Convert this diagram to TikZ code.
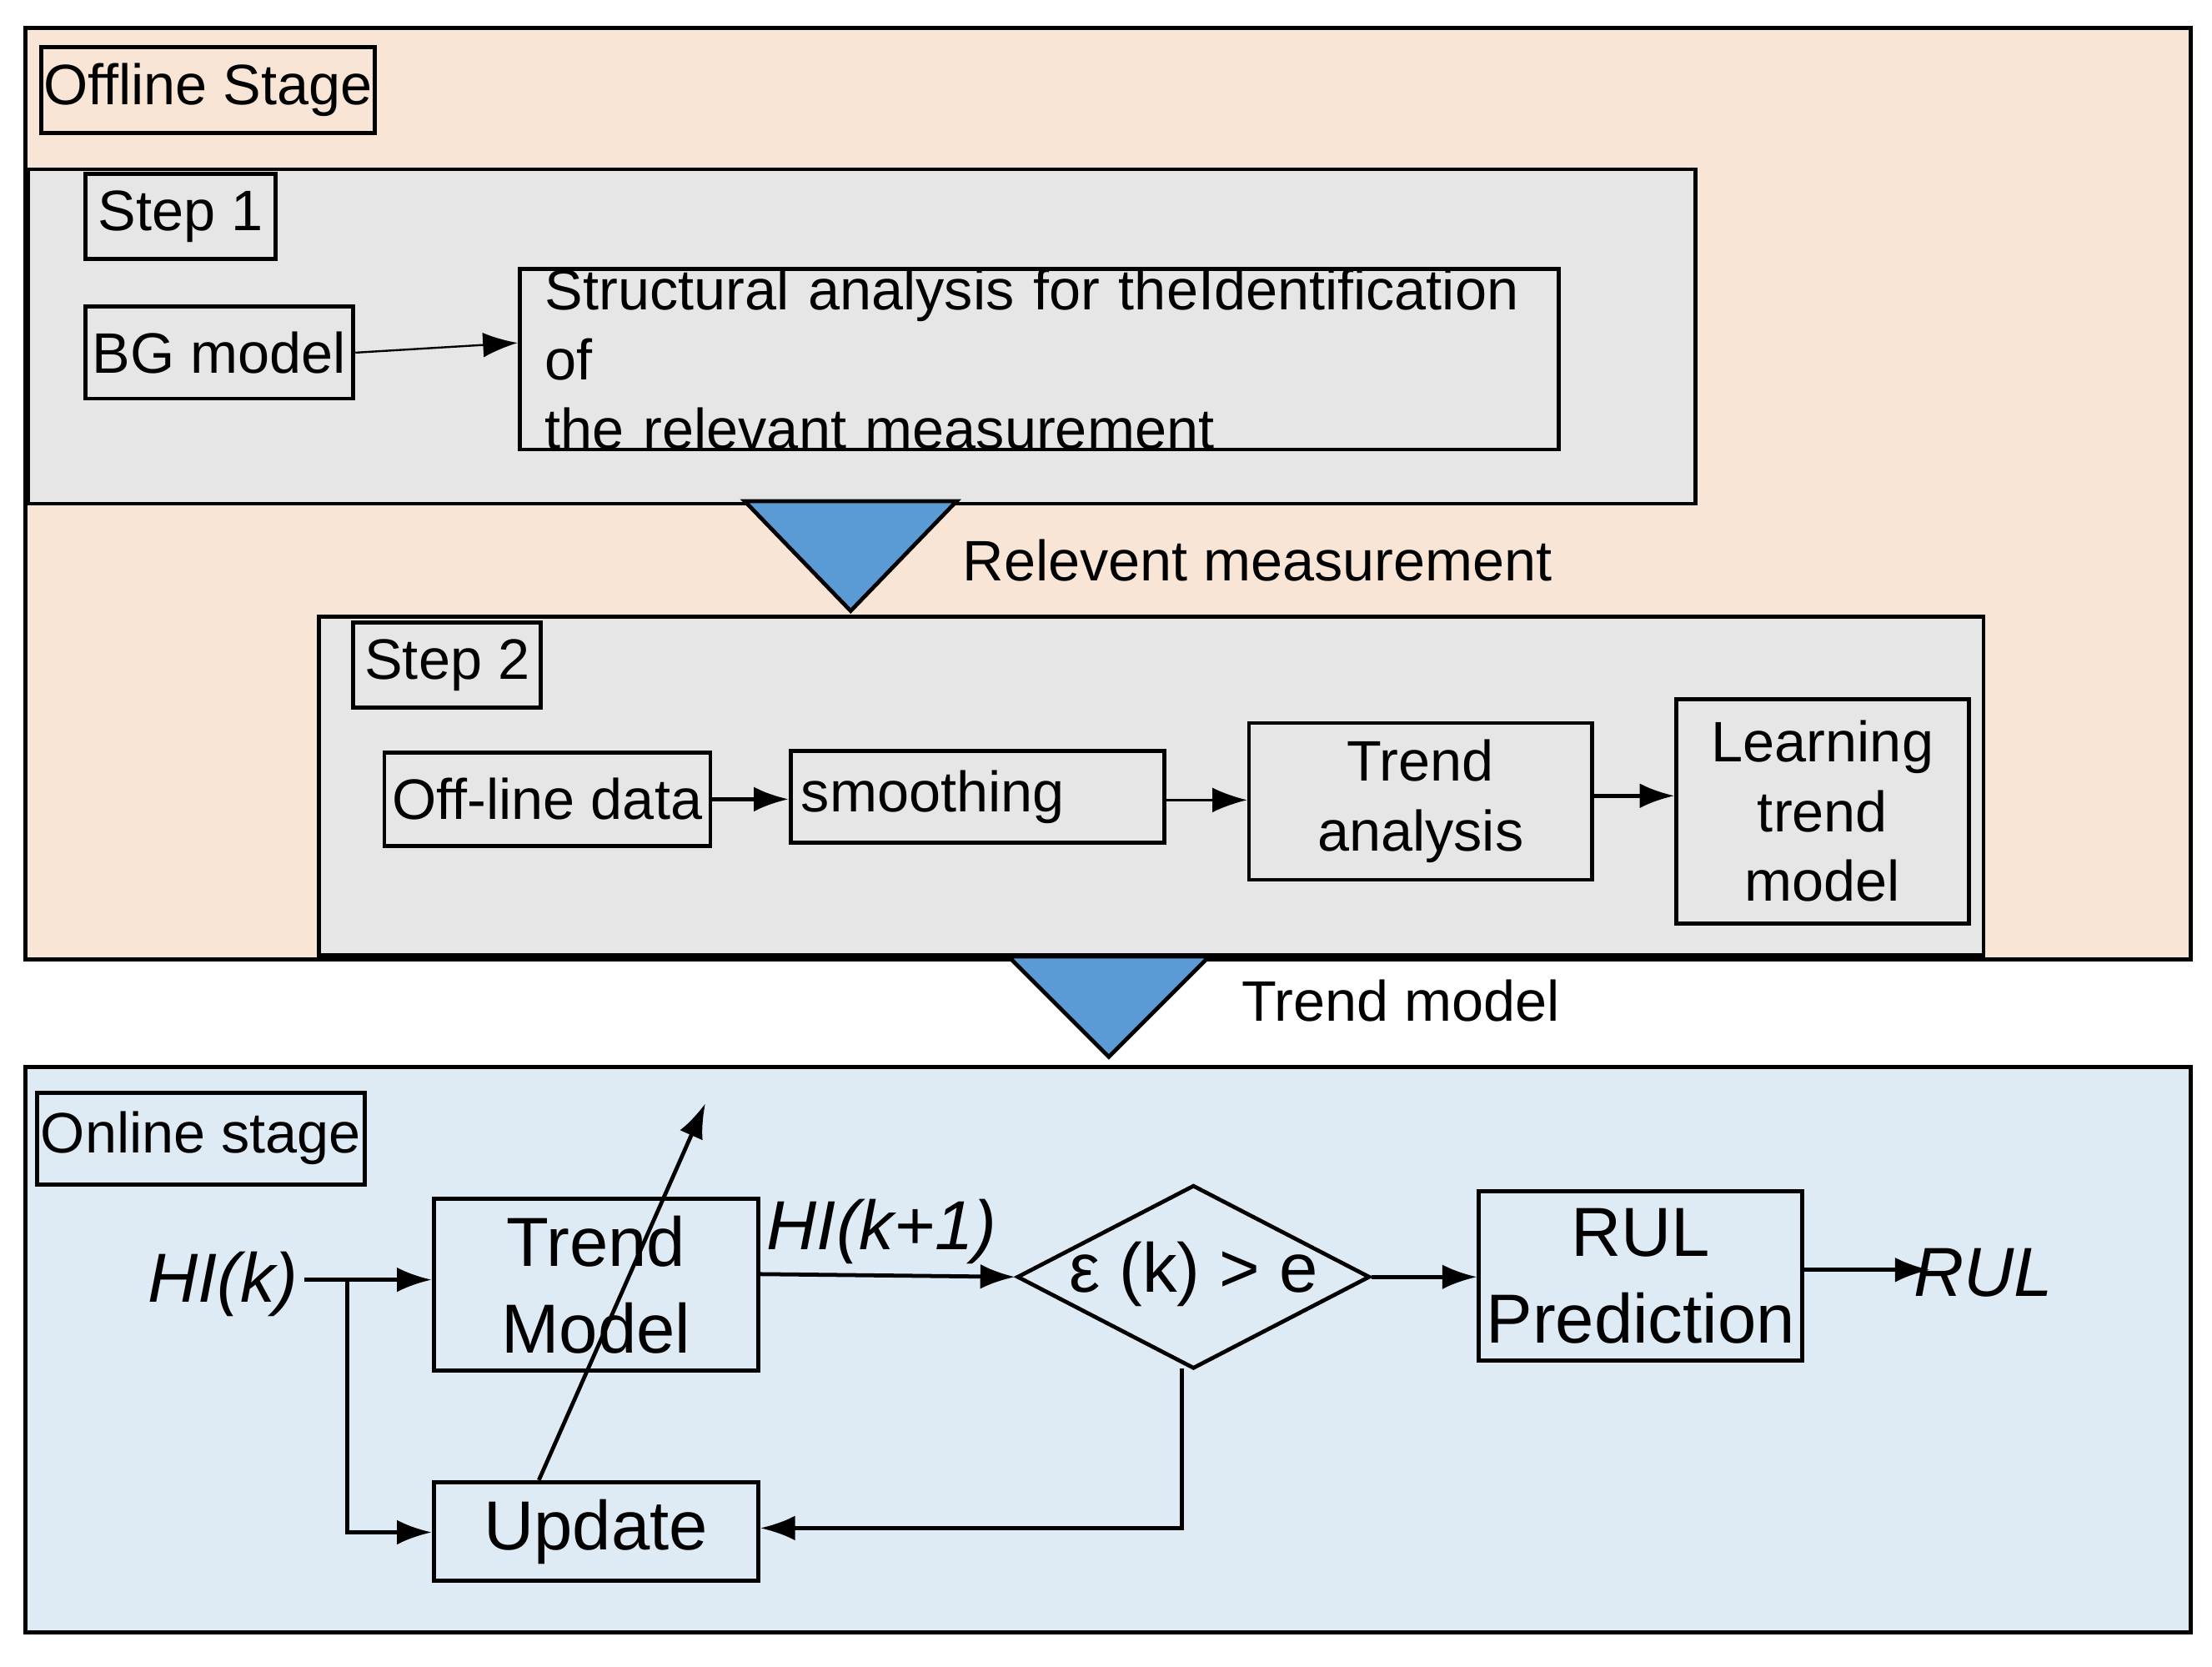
\documentclass[tikz,border=0pt]{standalone}
\usepackage{fontspec}
\setmainfont{Liberation Sans}
\usetikzlibrary{shapes.geometric,arrows.meta}
\definecolor{peach}{HTML}{F8E5D6}
\definecolor{lgray}{HTML}{E6E6E6}
\definecolor{tri}{HTML}{5B9BD5}
\definecolor{lblue}{HTML}{DEEBF5}
\begin{document}
\begin{tikzpicture}[x=0.01cm,y=-0.01cm,
  every node/.style={font=\fontsize{11.5}{14}\selectfont},
  big/.style={font=\fontsize{14}{17.5}\selectfont},
  bx/.style={draw,thick,inner sep=0pt},
  arr/.style={thick,-{Latex[length=7pt,width=5pt]}}]
\useasboundingbox (0,0) rectangle (1568,1181);
% offline
\draw[thick,fill=peach] (18,20) rectangle (1553,680);
\node[bx,fill=peach,anchor=north west,minimum width=2.36cm,minimum height=0.61cm] (off) at (28,32) {Offline Stage};
\draw[thick,fill=lgray] (20,120) rectangle (1202,357);
\node[bx,anchor=north west,minimum width=1.35cm,minimum height=0.6cm] (s1) at (59,122) {Step 1};
\node[bx,anchor=north west,minimum width=1.9cm,minimum height=0.65cm] (bg) at (59,216) {BG model};
\node[bx,anchor=north west,minimum width=7.36cm,minimum height=1.1cm,text width=7.0cm,align=left] (sa) at (367,189) {Structural analysis for theIdentification of\\the relevant measurement};
\draw[arr,thin] (bg.east) -- (sa.west|-0,243);
\node[draw,thick,fill=tri,isosceles triangle,shape border rotate=-90,isosceles triangle apex angle=88,minimum width=1.5cm,minimum height=0.73cm,inner sep=0pt,anchor=apex] (t1) at (603,435) {};
\node[anchor=west] (rm) at (670,397) {Relevent measurement};
\draw[thick,fill=lgray] (226,437) rectangle (1406,677);
\node[bx,anchor=north west,minimum width=1.33cm,minimum height=0.6cm] (s2) at (249,440) {Step 2};
\node[bx,anchor=north west,minimum width=2.31cm,minimum height=0.66cm] (od) at (271,532) {Off-line data};
\node[bx,anchor=north west,minimum width=2.65cm,minimum height=0.65cm,text width=2.5cm,align=left] (sm) at (559,531) {smoothing};
\node[bx,anchor=north west,minimum width=2.43cm,minimum height=1.11cm,align=center] (ta) at (884,511) {Trend\\analysis};
\node[bx,anchor=north west,minimum width=2.07cm,minimum height=1.59cm,align=center] (lt) at (1187,494) {Learning\\trend\\model};
\draw[arr] (od.east) -- (sm.west|-od.east);
\draw[arr,thin] (sm.east|-0,567) -- (ta.west|-0,567);
\draw[arr] (ta.east|-0,564) -- (lt.west|-0,564);
\node[draw,thick,fill=tri,isosceles triangle,shape border rotate=-90,isosceles triangle apex angle=90,minimum width=1.42cm,minimum height=0.71cm,inner sep=0pt,anchor=apex] (t2) at (786,751) {};
\node (tm) at (993,709) {Trend model};
% online
\draw[thick,fill=lblue] (18,756) rectangle (1553,1157);
\node[bx,anchor=north west,minimum width=2.32cm,minimum height=0.65cm] (on) at (25,773) {Online stage};
\node[bx,big,anchor=north west,minimum width=2.3cm,minimum height=1.22cm,align=center] (tmb) at (306,848) {Trend\\Model};
\node[bx,big,anchor=north west,minimum width=2.3cm,minimum height=0.7cm] (up) at (306,1049) {Update};
\node[draw,thick,diamond,aspect=1.92,minimum width=2.5cm,minimum height=1.3cm,inner sep=0pt] (dm) at (846,905) {};
\node[big] (dmt) at (846,903) {ε (k) > e};
\node[bx,big,anchor=north west,minimum width=2.29cm,minimum height=1.2cm,align=center] (rp) at (1047,843) {RUL\\Prediction};
\node[big,font=\fontsize{14}{17.5}\selectfont\itshape] (hi) at (158,910) {HI(k)};
\node[big,font=\fontsize{14}{17.5}\selectfont\itshape] (hi1) at (625,873) {HI(k+1)};
\node[big,font=\fontsize{14}{17.5}\selectfont\itshape] (rul) at (1406,902) {RUL};
\coordinate (hs) at (216,907);
\coordinate (br) at (246,907);
\coordinate (ua) at (500,782);
\coordinate (re) at (1368,900);
\draw[arr] (hs) -- (tmb.west|-hs);
\draw[arr] (br) |- (up.west|-0,1086);
\draw[arr] (tmb.east|-0,903) -- (dm.west);
\draw[arr] (dm.east) -- (rp.west|-dm.east);
\draw[arr] (rp.east|-0,900) -- (re);
\draw[arr] (838,970) |- (up.east|-0,1083);
\draw[arr] (382,1049) -- (ua);
\end{tikzpicture}
\end{document}
